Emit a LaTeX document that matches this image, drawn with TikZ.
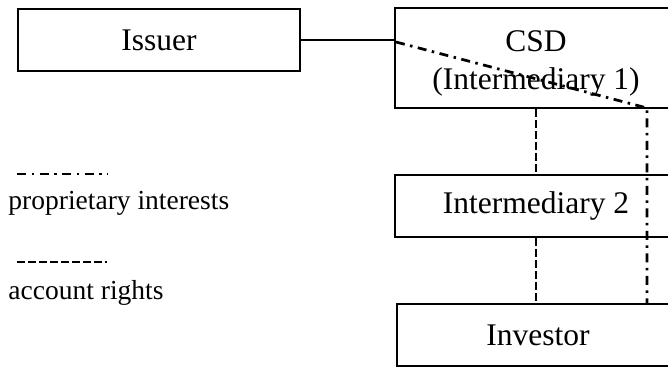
\documentclass[tikz,border=0pt]{standalone}
\usepackage{fontspec}
\setmainfont{Liberation Serif}
\usetikzlibrary{positioning,calc}

\begin{document}
\begin{tikzpicture}[x=0.4pt, y=-0.4pt,
  box/.style={draw,line width=0.8pt,minimum width=112.8pt,minimum height=24.8pt,inner sep=0pt,align=center,font=\fontsize{12.6}{15.2}\selectfont},
  boxtext/.style={inner sep=0pt,align=center,font=\fontsize{12.6}{15.2}\selectfont},
  legend/.style={anchor=west,inner sep=0pt,font=\fontsize{11}{13}\selectfont},
  prop/.style={line width=1.1pt,dash pattern=on 3.6pt off 2.2pt on 1pt off 2.2pt},
  acct/.style={line width=1.1pt,dash pattern=on 3pt off 1.4pt}
]
\useasboundingbox (0,0) rectangle (668,368);
\clip (0,0) rectangle (668,368);

% Boxes
\node[box] (issuer) at (159,40) {Issuer};
\node[box,minimum height=40pt] (csd) at (536,58) {};
\node[boxtext] (csdText) at (536,63) {CSD\\(Intermediary 1)};
\node[box] (inter2) at (536,206) {Intermediary 2};
\node[box] (investor) at (538,335) {Investor};

% Issuer to CSD
\draw[line width=1pt] (issuer.east) -- (issuer.east -| csd.west);

% Proprietary interests
\coordinate (corner) at (647,108);
\draw[prop] ($(issuer.east -| csd.west)+(2,2)$) -- (corner) -- (corner |- investor.north);

% Account rights
\draw[acct] (csd.south) -- (inter2.north);
\draw[acct] (inter2.south) -- (inter2.south |- investor.north);

% Legend
\coordinate (propA) at (17,174);
\coordinate (propB) at (108,174);
\draw[prop] (propA) -- (propB);
\node[legend] (propText) at (8,203) {proprietary interests};
\coordinate (acctA) at (17,262);
\coordinate (acctB) at (107,262);
\draw[acct] (acctA) -- (acctB);
\node[legend] (acctText) at (8,293) {account rights};
\end{tikzpicture}
\end{document}
